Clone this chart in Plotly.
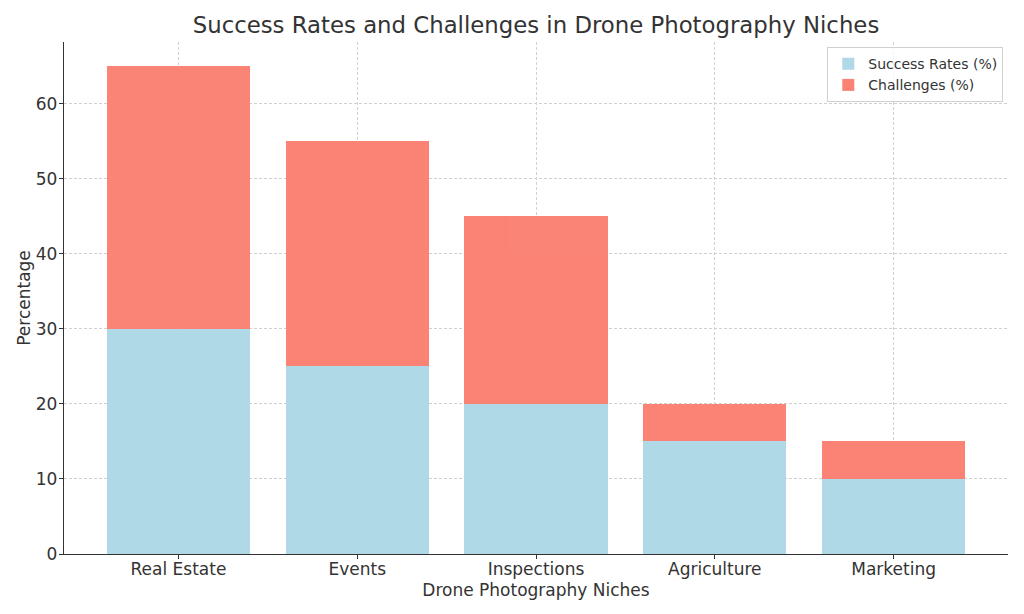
import plotly.graph_objects as go

categories = ["Real Estate", "Events", "Inspections", "Agriculture", "Marketing"]
success_rates = [30, 25, 20, 15, 10]
challenges = [35, 30, 25, 5, 5]
y_ticks = [0, 10, 20, 30, 40, 50, 60]

font = "DejaVu Sans"
fig = go.Figure()
fig.add_trace(go.Bar(x=categories, y=success_rates, name="Success Rates (%)",
                     marker=dict(color="#ADD8E6", line=dict(width=0)), opacity=0.97))
fig.add_trace(go.Bar(x=categories, y=challenges, name="Challenges (%)",
                     marker=dict(color="#FA8072", line=dict(width=0)), opacity=0.97))

fig.update_layout(
    barmode="stack", bargap=0.2,
    width=1024, height=614,
    margin=dict(l=56, r=24, t=34, b=68, autoexpand=False),
    plot_bgcolor="white", paper_bgcolor="white",
    font=dict(family=font, size=17, color="#333333"),
    title=dict(text="Success Rates and Challenges in Drone Photography Niches",
               x=0.5, xref="paper", xanchor="center",
               y=1 - 17 / 614, yanchor="middle",
               font=dict(size=22.8, color="#333333")),
    legend=dict(x=0.995, y=0.99, xanchor="right", yanchor="top", traceorder="normal",
                bgcolor="rgba(255,255,255,0.8)", bordercolor="#d0d0d0", borderwidth=1,
                font=dict(size=14, color="#333333")),
    showlegend=True,
)
fig.update_xaxes(
    title=dict(text="Drone Photography Niches", standoff=6, font=dict(size=17)),
    range=[-0.64, 4.64], showline=True, linecolor="#333333", linewidth=1.3,
    ticks="outside", ticklen=4, tickcolor="#333333", ticklabelstandoff=-5,
    showgrid=True, gridcolor="#d0d0d0", griddash="3px,2px", gridwidth=0.8,
    automargin=False, mirror=False,
)
fig.update_yaxes(
    title=dict(text="Percentage", standoff=0, font=dict(size=17)),
    range=[0, 68.25], tickvals=y_ticks, showline=True, linecolor="#333333", linewidth=1.3,
    ticks="outside", ticklen=4, tickcolor="#333333", ticklabelstandoff=-2,
    showgrid=True, gridcolor="#d0d0d0", griddash="3px,2px", gridwidth=0.8,
    zeroline=False, automargin=False,
)
fig.write_html("out.html")
